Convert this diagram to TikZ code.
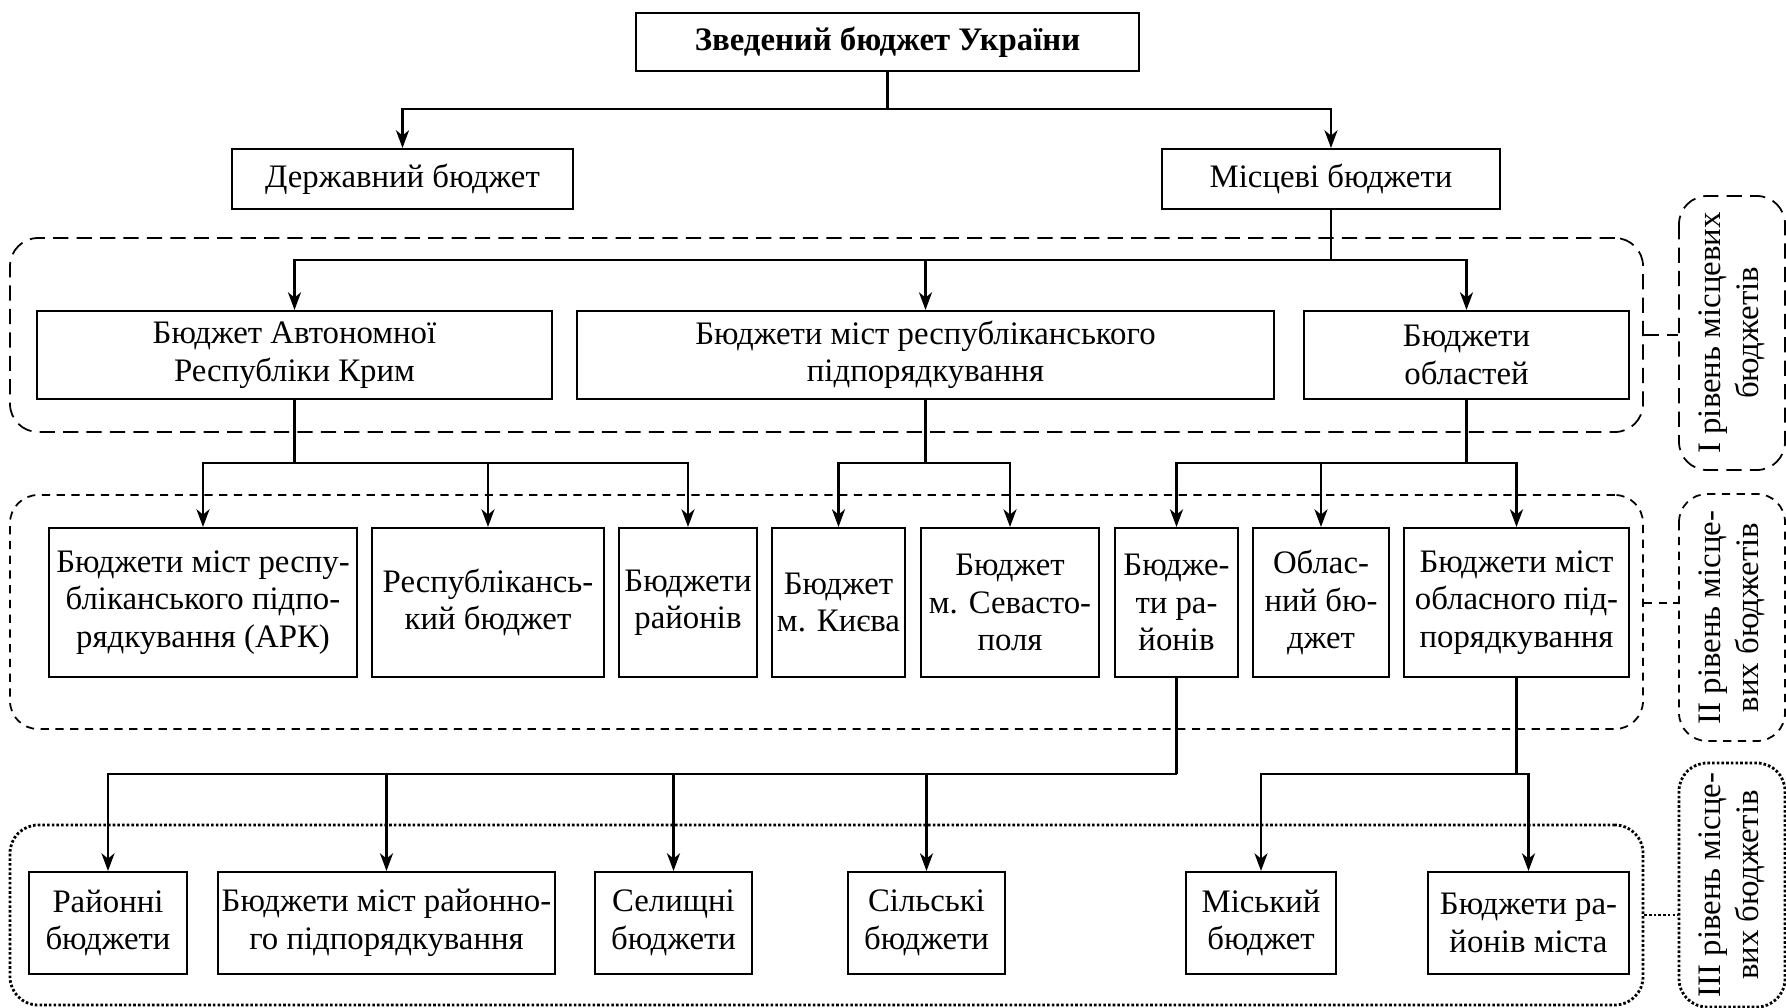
\documentclass[tikz,border=0pt]{standalone}
\usepackage{fontspec}
\setmainfont{Liberation Serif}
\usetikzlibrary{arrows.meta}

\newcommand{\PxUnit}{0.015cm}
\newcommand{\BoxFont}{\fontsize{14}{16}\selectfont}

\tikzset{
	bx/.style 2 args={draw, line width=0.85pt, minimum width=#1*\PxUnit, minimum height=#2*\PxUnit,
		inner sep=1pt, align=center, font=\BoxFont},
	con/.style={line width=1.25pt},
	arr/.style={con, -{Stealth[length=7.5pt,width=5.5pt,inset=2.2pt]}},
	grpA/.style 2 args={draw, line width=0.75pt, dash pattern=on 6.5pt off 3.5pt, rounded corners=12pt,
		minimum width=#1*\PxUnit, minimum height=#2*\PxUnit, align=center, font=\BoxFont},
	grpB/.style 2 args={grpA={#1}{#2}, dash pattern=on 3.5pt off 2.8pt},
	grpC/.style 2 args={grpA={#1}{#2}, line width=1.2pt, dash pattern=on 1.1pt off 0.9pt},
	linkA/.style={line width=0.75pt, dash pattern=on 6.5pt off 3.5pt},
	linkB/.style={line width=0.75pt, dash pattern=on 3.5pt off 2.8pt},
	linkC/.style={line width=1.2pt, dash pattern=on 1.1pt off 0.9pt}
}

\begin{document}
\begin{tikzpicture}[x=\PxUnit, y=-\PxUnit]
	\useasboundingbox (0,0) rectangle (1786,1008);
	
	% frames of the three levels
	\node[grpA={1633}{194}] (g1) at (826.5,335) {};
	\node[grpB={1633}{234}] (g2) at (826.5,612) {};
	\node[grpC={1633}{180}] (g3) at (826.5,915) {};
	
	% labels of the levels
	\node[grpA={274}{106}, rotate=90] (lab1) at (1732,333) {І рівень місцевих\\бюджетів};
	\node[grpB={247}{106}, rotate=90] (lab2) at (1732,617.5) {ІІ рівень місце-\\вих бюджетів};
	\node[grpC={244}{106}, rotate=90] (lab3) at (1732,885) {ІІІ рівень місце-\\вих бюджетів};
	
	\draw[linkA] (g1.east) -- (g1.east -| lab1.north);
	\draw[linkB] ([yshift=9*\PxUnit]g2.east) -- ([yshift=9*\PxUnit]g2.east -| lab2.north);
	\draw[linkC] (g3.east) -- (g3.east -| lab3.north);
	
	% top
	\node[bx={503}{58}] (top) at (887.5,42) {\textbf{Зведений бюджет України}};
	\node[bx={341}{60}] (derzh) at (402.5,179) {Державний бюджет};
	\node[bx={338}{60}] (mists) at (1331,179) {Місцеві бюджети};
	
	% level I
	\node[bx={515}{88}] (ark) at (294.5,355) {Бюджет Автономної\\Республіки Крим};
	\node[bx={697}{88}] (cities) at (925.5,355) {Бюджети міст республіканського\\підпорядкування};
	\node[bx={325}{88}] (obl) at (1466.5,355) {Бюджети\\областей};
	
	% level II
	\node[bx={308}{149}] (a1) at (203,602.5) {Бюджети міст респу-\\бліканського підпо-\\рядкування (АРК)};
	\node[bx={232}{149}] (a2) at (488,602.5) {Республікансь-\\кий бюджет};
	\node[bx={138}{149}] (a3) at (688,602.5) {Бюджети\\районів};
	\node[bx={133}{149}] (c1) at (838.5,602.5) {Бюджет\\м. Києва};
	\node[bx={178}{149}] (c2) at (1010,602.5) {Бюджет\\м. Севасто-\\поля};
	\node[bx={123}{149}] (o1) at (1176.5,602.5) {Бюдже-\\ти ра-\\йонів};
	\node[bx={136}{149}] (o2) at (1321,602.5) {Облас-\\ний бю-\\джет};
	\node[bx={225}{149}] (o3) at (1516.5,602.5) {Бюджети міст\\обласного під-\\порядкування};
	
	% level III
	\node[bx={158}{102}] (r1) at (108,923) {Районні\\бюджети};
	\node[bx={337}{102}] (r2) at (386.5,923) {Бюджети міст районно-\\го підпорядкування};
	\node[bx={157}{102}] (r3) at (673.5,923) {Селищні\\бюджети};
	\node[bx={157}{102}] (r4) at (926.5,923) {Сільські\\бюджети};
	\node[bx={150}{102}] (m1) at (1261,923) {Міський\\бюджет};
	\node[bx={201}{102}] (m2) at (1528.5,923) {Бюджети ра-\\йонів міста};
	
	% junctions
	\coordinate (j0) at (887.5,109);
	\coordinate (j1) at (1331,260);
	\coordinate (j2a) at (294.5,463);
	\coordinate (j2c) at (925.5,463);
	\coordinate (j2o) at (1466.5,463);
	\coordinate (j3a) at (1176.5,774);
	\coordinate (j3o) at (1516.5,774);
	
	\draw[con] (top) -- (j0);
	\draw[arr] (j0) -| (derzh);
	\draw[arr] (j0) -| (mists);
	
	\draw[con] (mists) -- (j1);
	\draw[arr] (j1) -| (ark);
	\draw[arr] (j1) -| (cities);
	\draw[arr] (j1) -| (obl);
	
	\draw[con] (ark) -- (j2a);
	\draw[arr] (j2a) -| (a1);
	\draw[arr] (j2a) -| (a2);
	\draw[arr] (j2a) -| (a3);
	
	\draw[con] (cities) -- (j2c);
	\draw[arr] (j2c) -| (c1);
	\draw[arr] (j2c) -| (c2);
	
	\draw[con] (obl) -- (j2o);
	\draw[arr] (j2o) -| (o1);
	\draw[arr] (j2o) -| (o2);
	\draw[arr] (j2o) -| (o3);
	
	\draw[con] (o1) -- (j3a);
	\draw[arr] (j3a) -| (r1);
	\draw[arr] (j3a) -| (r2);
	\draw[arr] (j3a) -| (r3);
	\draw[arr] (j3a) -| (r4);
	
	\draw[con] (o3) -- (j3o);
	\draw[arr] (j3o) -| (m1);
	\draw[arr] (j3o) -| (m2);
\end{tikzpicture}
\end{document}
